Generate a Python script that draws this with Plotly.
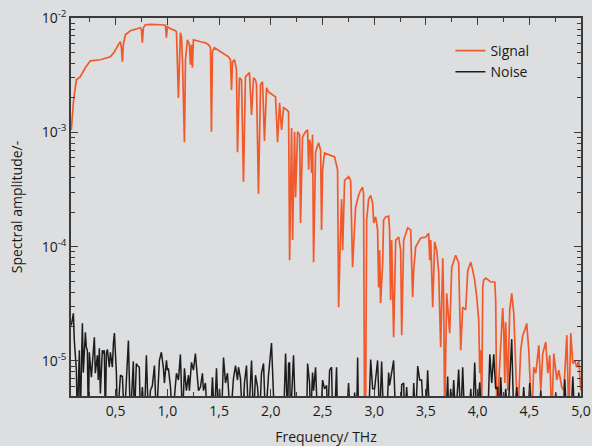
import plotly.graph_objects as go

B = 3e-6  # below visible range (trace runs off the bottom of the plot)

freq_signal = [
    0.071, 0.081, 0.091, 0.100, 0.120, 0.158, 0.207, 0.255, 0.352, 0.449,
    0.488, 0.526, 0.546, 0.555, 0.565, 0.574, 0.594, 0.642, 0.739, 0.749,
    0.758, 0.768, 0.787, 0.836, 0.884, 0.933, 0.981, 0.991, 1.000, 1.030,
    1.078, 1.088, 1.107, 1.117, 1.126, 1.136, 1.146, 1.165, 1.175, 1.194,
    1.213, 1.223, 1.233, 1.242, 1.252, 1.320, 1.368, 1.398, 1.417, 1.426,
    1.436, 1.455, 1.513, 1.591, 1.610, 1.620, 1.630, 1.649, 1.668, 1.678,
    1.697, 1.717, 1.736, 1.755, 1.775, 1.794, 1.814, 1.833, 1.852, 1.862,
    1.881, 1.901, 1.920, 1.939, 1.959, 1.978, 2.017, 2.046, 2.066, 2.085,
    2.104, 2.124, 2.153, 2.172, 2.182, 2.201, 2.211, 2.230, 2.240, 2.259,
    2.279, 2.288, 2.307, 2.336, 2.356, 2.366, 2.375, 2.385, 2.395, 2.404,
    2.414, 2.433, 2.462, 2.482, 2.491, 2.501, 2.520, 2.578, 2.617, 2.646,
    2.656, 2.675, 2.685, 2.695, 2.714, 2.753, 2.772, 2.791, 2.820, 2.849,
    2.868, 2.888, 2.897, 2.907, 2.917, 2.927, 2.946, 2.966, 2.985, 2.995,
    3.014, 3.033, 3.043, 3.053, 3.062, 3.082, 3.091, 3.111, 3.140, 3.149,
    3.159, 3.169, 3.188, 3.208, 3.237, 3.256, 3.266, 3.285, 3.324, 3.353,
    3.372, 3.382, 3.401, 3.450, 3.498, 3.527, 3.537, 3.547, 3.566, 3.585,
    3.605, 3.624, 3.643, 3.663, 3.672, 3.682, 3.692, 3.701, 3.711, 3.730,
    3.750, 3.788, 3.817, 3.837, 3.856, 3.885, 3.905, 3.934, 3.953, 3.972,
    3.992, 4.011, 4.021, 4.030, 4.040, 4.050, 4.059, 4.079, 4.127, 4.166,
    4.175, 4.185, 4.195, 4.214, 4.243, 4.253, 4.263, 4.272, 4.292, 4.311,
    4.330, 4.350, 4.369, 4.388, 4.417, 4.437, 4.456, 4.475, 4.495, 4.524,
    4.543, 4.563, 4.592, 4.611, 4.630, 4.659, 4.679, 4.698, 4.717, 4.737,
    4.766, 4.785, 4.814, 4.834, 4.863, 4.882, 4.901, 4.921, 4.940, 4.959,
    4.979, 4.998,
]
amp_signal = [
    1.05e-3, 1.51e-3, 1.81e-3, 2.13e-3, 2.88e-3, 3.06e-3, 3.67e-3, 4.22e-3, 4.31e-3, 4.58e-3,
    5.07e-3, 5.84e-3, 6.20e-3, 5.50e-3, 4.14e-3, 5.84e-3, 7.14e-3, 7.74e-3, 8.22e-3, 7.90e-3,
    6.08e-3, 8.20e-3, 8.73e-3, 8.80e-3, 8.80e-3, 8.73e-3, 8.65e-3, 6.72e-3, 8.40e-3, 8.06e-3,
    7.74e-3, 7.58e-3, 2.00e-3, 5.84e-3, 7.43e-3, 6.90e-3, 4.31e-3, 8.20e-4, 4.31e-3, 6.45e-3,
    5.84e-3, 3.90e-3, 5.84e-3, 3.67e-3, 6.45e-3, 6.20e-3, 6.08e-3, 5.84e-3, 5.49e-3, 1.01e-3,
    5.07e-3, 5.49e-3, 5.07e-3, 4.58e-3, 4.31e-3, 2.35e-3, 4.14e-3, 4.31e-3, 3.55e-3, 6.70e-4,
    3.00e-3, 2.88e-3, 3.70e-4, 3.06e-3, 3.20e-3, 3.32e-3, 1.42e-3, 3.00e-3, 2.88e-3, 2.60e-3,
    2.90e-4, 2.60e-3, 2.77e-3, 8.40e-4, 2.45e-3, 2.26e-3, 2.13e-3, 2.04e-3, 8.20e-4, 1.81e-3,
    1.05e-3, 1.64e-3, 1.58e-3, 1.51e-3, 7.60e-5, 1.09e-3, 1.14e-4, 1.01e-3, 2.70e-4, 1.01e-3,
    9.50e-4, 1.61e-4, 9.10e-4, 1.01e-3, 1.05e-3, 4.70e-4, 8.60e-4, 7.80e-4, 4.40e-4, 9.50e-4,
    7.30e-5, 6.70e-4, 8.10e-4, 7.00e-4, 1.40e-4, 4.70e-4, 6.60e-4, 6.30e-4, 6.10e-4, 4.70e-4,
    2.95e-5, 1.40e-4, 2.60e-4, 9.30e-5, 3.80e-4, 4.10e-4, 3.80e-4, 6.60e-5, 2.20e-4, 2.80e-4,
    3.10e-4, 3.30e-4, 2.90e-4, B, B, 1.71e-4, 2.60e-4, 2.80e-4, 2.40e-4, 1.61e-4,
    1.82e-4, 1.40e-4, 4.40e-5, 9.30e-5, 3.20e-5, 7.20e-5, 1.71e-4, 1.82e-4, 1.85e-4, 1.40e-4,
    3.40e-5, 1.14e-4, 1.61e-5, 1.14e-4, 1.21e-4, 9.30e-5, 1.68e-5, 1.14e-4, 1.46e-4, 1.40e-4,
    3.60e-5, 6.20e-5, 9.90e-5, 1.19e-4, 1.21e-4, 1.31e-4, 7.60e-5, 1.14e-4, 2.95e-5, 1.10e-4,
    9.30e-5, 5.90e-5, 1.32e-5, 7.90e-5, 3.40e-5, B, 1.85e-5, 3.90e-5, 2.95e-5, 1.75e-5,
    6.60e-5, 8.40e-5, 7.20e-5, 1.24e-5, 2.95e-5, 2.80e-5, 6.20e-5, 7.30e-5, 6.20e-5, 5.10e-5,
    3.60e-5, 2.27e-5, 7.80e-6, 1.24e-5, 4.0e-6, 4.40e-5, 5.10e-5, 5.30e-5, 4.90e-5, 4.90e-5,
    3.40e-5, 4.0e-6, 4.5e-6, 8.80e-6, 2.90e-5, 1.85e-5, 6.40e-6, 2.18e-5, 5.50e-6, 2.80e-5,
    3.90e-5, 2.60e-5, 8.80e-6, B, 1.24e-5, 1.68e-5, 1.85e-5, 2.13e-5, 1.24e-5, B,
    8.80e-6, 7.80e-6, 1.37e-5, 5.50e-6, 1.16e-5, 1.46e-5, 7.80e-6, 1.12e-5, B, 1.16e-5,
    6.80e-6, 8.30e-6, 5.90e-6, 5.50e-6, 1.68e-5, B, 1.75e-5, 9.50e-6, 1.01e-5, 8.80e-6,
    1.01e-5, 5.50e-6,
]

freq_noise = [
    0.071, 0.091, 0.100, 0.120, 0.129, 0.149, 0.158, 0.178, 0.187, 0.207,
    0.216, 0.226, 0.236, 0.245, 0.265, 0.294, 0.303, 0.323, 0.332, 0.342,
    0.352, 0.371, 0.381, 0.390, 0.400, 0.410, 0.420, 0.439, 0.449, 0.468,
    0.478, 0.488, 0.507, 0.517, 0.546, 0.565, 0.584, 0.604, 0.623, 0.642,
    0.671, 0.681, 0.700, 0.710, 0.729, 0.739, 0.758, 0.778, 0.797, 0.817,
    0.836, 0.855, 0.875, 0.894, 0.913, 0.923, 0.942, 0.962, 0.971, 0.991,
    1.000, 1.010, 1.030, 1.049, 1.088, 1.107, 1.126, 1.146, 1.165, 1.184,
    1.204, 1.213, 1.233, 1.252, 1.271, 1.291, 1.301, 1.320, 1.339, 1.349,
    1.368, 1.388, 1.417, 1.436, 1.455, 1.475, 1.494, 1.504, 1.523, 1.543,
    1.562, 1.581, 1.591, 1.610, 1.639, 1.659, 1.678, 1.688, 1.707, 1.726,
    1.746, 1.765, 1.785, 1.814, 1.833, 1.852, 1.872, 1.891, 1.910, 1.930,
    1.949, 1.978, 2.007, 2.017, 2.036, 2.124, 2.143, 2.162, 2.172, 2.182,
    2.191, 2.220, 2.240, 2.346, 2.356, 2.375, 2.385, 2.404, 2.414, 2.433,
    2.453, 2.482, 2.501, 2.520, 2.540, 2.550, 2.569, 2.588, 2.598, 2.617,
    2.636, 2.646, 2.733, 2.752, 2.772, 2.801, 2.811, 2.830, 2.840, 2.849,
    2.946, 2.966, 2.985, 3.004, 3.033, 3.053, 3.072, 3.091, 3.120, 3.140,
    3.149, 3.169, 3.188, 3.208, 3.256, 3.266, 3.285, 3.295, 3.314, 3.333,
    3.372, 3.382, 3.401, 3.421, 3.440, 3.459, 3.479, 3.498, 3.517, 3.537,
    3.692, 3.711, 3.721, 3.740, 3.750, 3.769, 3.788, 3.817, 3.837, 3.856,
    3.875, 3.914, 3.934, 3.953, 3.972, 3.992, 4.021, 4.040, 4.098, 4.118,
    4.137, 4.156, 4.175, 4.195, 4.204, 4.224, 4.243, 4.272, 4.292, 4.311,
    4.330, 4.350, 4.379, 4.398, 4.427, 4.446, 4.466, 4.485, 4.504, 4.524,
    4.592, 4.611, 4.630, 4.737, 4.756, 4.775, 4.824, 4.843, 4.863, 4.901,
    4.921, 4.940, 4.959, 4.979, 4.998,
]
amp_noise = [
    2.05e-5, 2.61e-5, 1.51e-5, 8.3e-6, B, 1.24e-5, B, 2.13e-5, 7.9e-6, 1.78e-5,
    1.32e-5, 1.24e-5, B, 1.19e-5, 7.2e-6, 1.61e-5, 7.8e-6, 1.12e-5, 6.8e-6, 1.29e-5,
    5.2e-6, 1.24e-5, 1.16e-5, 1.24e-5, B, 1.16e-5, 1.26e-5, 8.8e-6, 1.19e-5, 8.8e-6,
    1.43e-5, 1.75e-5, 7.8e-6, B, 7.5e-6, 7.3e-6, B, 7.5e-6, 1.51e-5, B,
    9.9e-6, B, 9.5e-6, 9.1e-6, 8.8e-6, B, 5.9e-6, B, 1.12e-5, B,
    5.5e-6, 6.1e-6, 9.1e-6, B, 7.9e-6, 1.01e-5, 1.19e-5, 8.6e-6, 6.4e-6, 1.01e-5,
    8.3e-6, 8.6e-6, 5.9e-6, B, 7.8e-6, 6.8e-6, 1.14e-5, B, 8.6e-6, 5.5e-6,
    7.5e-6, 5.5e-6, 9.7e-6, 8.3e-6, 1.16e-5, 7.5e-6, 5.5e-6, 5.9e-6, 7.8e-6, 5.5e-6,
    6.4e-6, B, B, 7.2e-6, B, 8.6e-6, B, 5.7e-6, B, 1.07e-5,
    6.4e-6, 7.8e-6, 5.7e-6, B, 7.0e-6, 9.1e-6, 6.8e-6, 8.8e-6, 7.0e-6, B,
    6.5e-6, 9.1e-6, B, 1.01e-5, B, 7.5e-6, 5.9e-6, B, 7.8e-6, 9.5e-6,
    B, 7.5e-6, 1.43e-5, 8.6e-6, B, B, 1.16e-5, B, 9.5e-6, 9.7e-6,
    B, 1.12e-5, B, B, 9.5e-6, 6.4e-6, B, 7.9e-6, 5.5e-6, 8.8e-6,
    B, B, 6.8e-6, 5.7e-6, 6.1e-6, B, 8.3e-6, 8.8e-6, B, B,
    8.8e-6, B, B, 6.4e-6, B, B, 5.3e-6, B, 1.07e-5, B,
    B, 1.03e-5, 5.7e-6, 5.7e-6, 1.01e-5, B, 9.9e-6, B, B, 7.9e-6,
    6.1e-6, 7.9e-6, 1.01e-5, B, B, 6.2e-6, 6.4e-6, B, 5.9e-6, B,
    B, 6.4e-6, B, 9.0e-6, 6.8e-6, 6.8e-6, B, B, 8.3e-6, B,
    B, 7.3e-6, B, 5.7e-6, B, 6.8e-6, B, 8.4e-6, B, 8.8e-6,
    B, B, 5.7e-6, B, 9.7e-6, B, 6.5e-6, B, B, 1.14e-5,
    6.4e-6, 1.14e-5, 5.7e-6, 5.9e-6, B, 7.2e-6, B, 5.7e-6, B, 7.0e-6,
    1.55e-5, B, 5.9e-6, B, B, 5.9e-6, B, B, 6.4e-6, B,
    B, 5.5e-6, B, B, 5.3e-6, B, B, 6.9e-6, B, B,
    7.3e-6, B, B, 5.3e-6, B,
]

assert len(freq_signal) == len(amp_signal), (len(freq_signal), len(amp_signal))
assert len(freq_noise) == len(amp_noise), (len(freq_noise), len(amp_noise))

y_tick_vals = [1e-5, 1e-4, 1e-3, 1e-2]
y_tick_text = ["10<sup>-5</sup>", "10<sup>-4</sup>", "10<sup>-3</sup>", "10<sup>-2</sup>"]
y_minor_vals = [m * 10.0 ** e for e in range(-6, -2) for m in range(2, 10)]

BG = "#dddee0"
AX = "#3a3a3a"
FONT = "Open Sans"

fig = go.Figure()
fig.add_trace(go.Scatter(x=freq_signal, y=amp_signal, mode="lines", name="Signal",
                         line=dict(color="#f1592a", width=1.7)))
fig.add_trace(go.Scatter(x=freq_noise, y=amp_noise, mode="lines", name="Noise",
                         line=dict(color="#1c1c1c", width=1.5)))

fig.update_layout(
    width=592, height=446,
    margin=dict(l=71, r=11, t=18, b=50, autoexpand=False),
    paper_bgcolor=BG, plot_bgcolor=BG,
    separators=", ",
    font=dict(family=FONT, size=14, color="#1a1a1a"),
    showlegend=True,
    legend=dict(x=0.744, y=0.955, xanchor="left", yanchor="top",
                bgcolor="rgba(0,0,0,0)", font=dict(size=14)),
    xaxis=dict(
        range=[0.068, 5.0], tick0=0, dtick=0.5, tickformat=".1f",
        ticks="inside", ticklen=7, tickwidth=1.3, tickcolor=AX,
        minor=dict(dtick=0.25, tick0=0, ticks="inside", ticklen=4, tickwidth=1.2, tickcolor=AX),
        showline=True, linecolor=AX, linewidth=1.5, mirror="allticks",
        showgrid=False, zeroline=False, automargin=False,
        tickfont=dict(size=14), ticklabelstandoff=1,
        title=dict(text="Frequency/ THz", standoff=25, font=dict(size=14)),
    ),
    yaxis=dict(
        type="log", range=[-5.307, -2.0],
        tickmode="array", tickvals=y_tick_vals, ticktext=y_tick_text,
        ticks="inside", ticklen=7, tickwidth=1.3, tickcolor=AX,
        minor=dict(tickmode="array", tickvals=y_minor_vals, ticks="inside",
                   ticklen=4, tickwidth=1.2, tickcolor=AX),
        showline=True, linecolor=AX, linewidth=1.5, mirror="allticks",
        showgrid=False, zeroline=False, automargin=False,
        tickfont=dict(size=14),
        title=dict(text="Spectral amplitude/-", standoff=16, font=dict(size=14)),
    ),
)

fig.write_html("out.html", config={"displayModeBar": False},
               post_script="document.body.style.margin='0';")
